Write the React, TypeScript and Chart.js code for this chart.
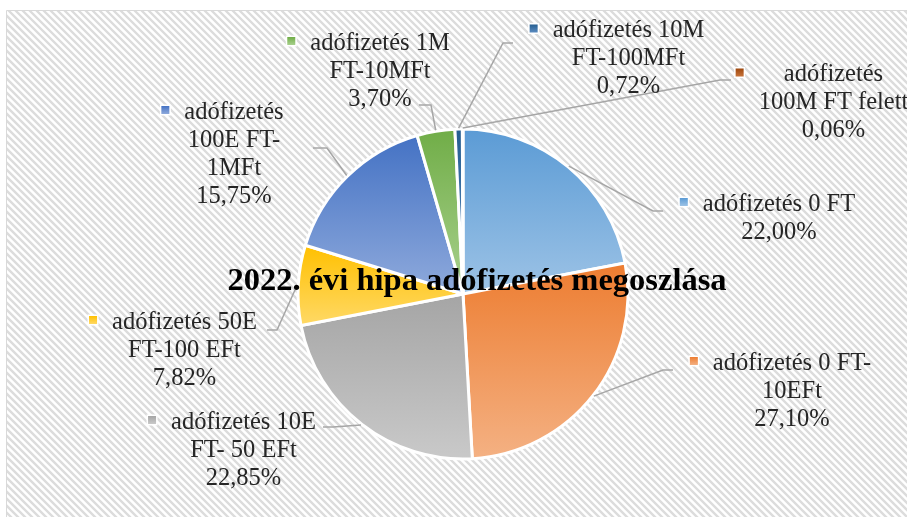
import React, { useEffect, useRef } from 'react';
import { Chart, registerables } from 'chart.js';

Chart.register(...registerables);

// ---------- data ----------
const CHART_TITLE = '2022. évi hipa adófizetés megoszlása';

const CATEGORIES = [
  'adófizetés 0 FT',
  'adófizetés 0 FT-10EFt',
  'adófizetés 10E FT- 50 EFt',
  'adófizetés 50E FT-100 EFt',
  'adófizetés 100E FT-1MFt',
  'adófizetés 1M FT-10MFt',
  'adófizetés 10M FT-100MFt',
  'adófizetés 100M FT felett',
];

const VALUES = [22.0, 27.1, 22.85, 7.82, 15.75, 3.7, 0.72, 0.06];

// how each category label is broken into lines
const LABEL_LINES = [
  ['adófizetés 0 FT'],
  ['adófizetés 0 FT-', '10EFt'],
  ['adófizetés 10E', 'FT- 50 EFt'],
  ['adófizetés 50E', 'FT-100 EFt'],
  ['adófizetés', '100E FT-', '1MFt'],
  ['adófizetés 1M', 'FT-10MFt'],
  ['adófizetés 10M', 'FT-100MFt'],
  ['adófizetés', '100M FT felett'],
];

// ---------- styles ----------
const COLORS_TOP = ['#5B9BD5', '#ED7D31', '#A5A5A5', '#FFC000', '#4472C4', '#70AD47', '#255E91', '#9E480E'];
const COLORS_BOTTOM = ['#9DC3E6', '#F4B183', '#C9C9C9', '#FFD966', '#8FAADC', '#A9D18E', '#5B8BC0', '#C8733A'];

// label placement (text centre x, first baseline y, leader elbow, leader end)
const LABEL_LAYOUT = [
  { cx: 779, y: 210.5, elbow: [653, 211], end: [663, 211] },
  { cx: 792, y: 369.5, elbow: [663, 370], end: [673, 370] },
  { cx: 243.5, y: 428.5, elbow: [333, 427], end: [323, 427] },
  { cx: 184.5, y: 328.5, elbow: [277, 330], end: [267, 330] },
  { cx: 234, y: 118.5, elbow: [327, 148], end: [313, 148] },
  { cx: 380, y: 49.5, elbow: [431, 105], end: [419, 105] },
  { cx: 628.5, y: 37, elbow: [503, 43], end: [513, 43] },
  { cx: 833.5, y: 81, elbow: [720, 80], end: [731, 80] },
];

const W = 907;
const H = 517;
const LABEL_FONT = '24.5px "Liberation Serif", "Times New Roman", serif';
const TITLE_FONT = 'bold 32.5px "Liberation Serif", "Times New Roman", serif';
const TEXT_COLOR = '#262626';
const LINE_H = 28;

function fmtPct(v: number) {
  return v.toFixed(2).replace('.', ',') + '%';
}

function sectorYRange(arc: any): [number, number] {
  const { x, y, startAngle, endAngle, outerRadius } = arc;
  let minY = y;
  let maxY = y;
  const angles = [startAngle, endAngle];
  for (let k = -4; k <= 4; k++) {
    const a = Math.PI / 2 + k * Math.PI;
    if (a > startAngle && a < endAngle) angles.push(a);
  }
  for (const a of angles) {
    const yy = y + Math.sin(a) * outerRadius;
    minY = Math.min(minY, yy);
    maxY = Math.max(maxY, yy);
  }
  return [minY, maxY];
}

const backgroundPlugin = {
  id: 'bgHatch',
  beforeDraw(chart: any) {
    const ctx = chart.ctx as CanvasRenderingContext2D;
    ctx.save();
    ctx.fillStyle = '#ffffff';
    ctx.fillRect(0, 0, W, H);
    const left = 6;
    const top = 10;
    ctx.beginPath();
    ctx.rect(left, top, W - left, H - top);
    ctx.clip();
    ctx.strokeStyle = '#DCDCDC';
    ctx.lineWidth = 2.4;
    ctx.beginPath();
    for (let k = -H; k < W + H; k += 7) {
      ctx.moveTo(k, top);
      ctx.lineTo(k + H, top + H);
    }
    ctx.stroke();
    ctx.restore();
    ctx.save();
    ctx.strokeStyle = '#D9D9D9';
    ctx.lineWidth = 1;
    ctx.beginPath();
    ctx.moveTo(left + 0.5, H);
    ctx.lineTo(left + 0.5, top + 0.5);
    ctx.lineTo(W, top + 0.5);
    ctx.stroke();
    ctx.restore();
  },
};

const labelsPlugin = {
  id: 'outLabels',
  afterDatasetsDraw(chart: any) {
    const ctx = chart.ctx as CanvasRenderingContext2D;
    const meta = chart.getDatasetMeta(0);
    // leader lines
    ctx.save();
    ctx.strokeStyle = '#A6A6A6';
    ctx.lineWidth = 1.5;
    meta.data.forEach((arc: any, i: number) => {
      const lay = LABEL_LAYOUT[i];
      const mid = (arc.startAngle + arc.endAngle) / 2;
      const r = arc.outerRadius + 1;
      const sx = arc.x + Math.cos(mid) * r;
      const sy = arc.y + Math.sin(mid) * r;
      ctx.beginPath();
      ctx.moveTo(sx, sy);
      ctx.lineTo(lay.elbow[0], lay.elbow[1]);
      ctx.lineTo(lay.end[0], lay.end[1]);
      ctx.stroke();
    });
    ctx.restore();

    // title over the pie
    ctx.save();
    ctx.font = TITLE_FONT;
    ctx.fillStyle = '#000000';
    ctx.textAlign = 'center';
    ctx.textBaseline = 'alphabetic';
    ctx.fillText(CHART_TITLE, 477, 290);
    ctx.restore();

    // labels
    ctx.save();
    ctx.font = LABEL_FONT;
    ctx.textAlign = 'center';
    ctx.textBaseline = 'alphabetic';
    VALUES.forEach((v, i) => {
      const lay = LABEL_LAYOUT[i];
      const lines = [...LABEL_LINES[i], fmtPct(v)];
      let maxW = 0;
      lines.forEach((l) => {
        maxW = Math.max(maxW, ctx.measureText(l).width);
      });
      ctx.fillStyle = TEXT_COLOR;
      lines.forEach((l, j) => {
        ctx.fillText(l, lay.cx, lay.y + j * LINE_H);
      });
      // legend key
      const ms = 8;
      const mx = lay.cx - maxW / 2 - 15 - ms;
      const my = lay.y - 8.5 - ms / 2;
      ctx.fillStyle = '#ffffff';
      ctx.fillRect(mx - 1.5, my - 1.5, ms + 3, ms + 3);
      const g = ctx.createLinearGradient(0, my, 0, my + ms);
      g.addColorStop(0, COLORS_TOP[i]);
      g.addColorStop(1, COLORS_BOTTOM[i]);
      ctx.fillStyle = g;
      ctx.fillRect(mx, my, ms, ms);
    });
    ctx.restore();
  },
};

export default function App() {
  const canvasRef = useRef<HTMLCanvasElement | null>(null);

  useEffect(() => {
    const canvas = canvasRef.current;
    if (!canvas) return;
    const chart = new Chart(canvas, {
      type: 'pie',
      data: {
        labels: CATEGORIES,
        datasets: [
          {
            data: VALUES,
            radius: 165,
            borderColor: '#ffffff',
            borderWidth: 3,
            backgroundColor: (c: any) => {
              const i = c.dataIndex;
              const arc = c.element;
              if (!arc || arc.startAngle === undefined || arc.x === undefined) return COLORS_TOP[i];
              const [y0, y1] = sectorYRange(arc);
              const g = c.chart.ctx.createLinearGradient(0, y0, 0, y1 > y0 ? y1 : y0 + 1);
              g.addColorStop(0, COLORS_TOP[i]);
              g.addColorStop(1, COLORS_BOTTOM[i]);
              return g;
            },
          } as any,
        ],
      },
      options: {
        responsive: false,
        animation: false,
        events: [],
        layout: { padding: { left: 19, right: 0, top: 71, bottom: 0 } },
        plugins: {
          legend: { display: false },
          title: { display: false },
          tooltip: { enabled: false },
        },
      },
      plugins: [backgroundPlugin, labelsPlugin],
    });
    chart.update();
    return () => chart.destroy();
  }, []);

  return (
    <div style={{ position: 'fixed', left: 0, top: 0, width: W, height: H, overflow: 'hidden' }}>
      <canvas ref={canvasRef} width={W} height={H} style={{ display: 'block', width: W, height: H }} />
    </div>
  );
}
